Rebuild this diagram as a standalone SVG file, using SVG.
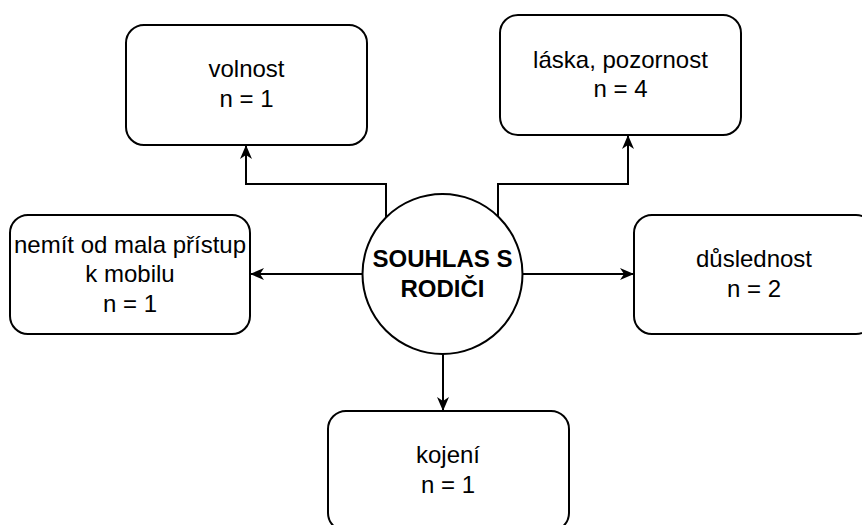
<svg xmlns="http://www.w3.org/2000/svg" width="862" height="525" viewBox="0 0 862 525">
<defs>
<style>
.box{fill:#fff;stroke:#000;stroke-width:2}
.t{font-family:"Liberation Sans",Arial,sans-serif;font-size:24px;fill:#000;text-anchor:middle}
.c{font-family:"Liberation Sans",Arial,sans-serif;font-size:24px;font-weight:bold;fill:#000;text-anchor:middle}
.e{fill:none;stroke:#000;stroke-width:2}
</style>
<marker id="arr" viewBox="0 0 14 12" refX="13" refY="6" markerWidth="14" markerHeight="12" markerUnits="userSpaceOnUse" orient="auto">
<path d="M0,0 L14,6 L0,12 L4,6 Z" fill="#000"/>
</marker>
</defs>
<rect width="862" height="525" fill="#fff"/>
<g id="connectors">
<path class="e" d="M386,217 V184 H246 V146" marker-end="url(#arr)"/>
<path class="e" d="M498,216 V184 H628 V136" marker-end="url(#arr)"/>
<path class="e" d="M362,274 H251" marker-end="url(#arr)"/>
<path class="e" d="M523,274 H633" marker-end="url(#arr)"/>
<path class="e" d="M443,354 V410" marker-end="url(#arr)"/>
</g>
<g id="center">
<circle class="box" cx="442.5" cy="274" r="80"/>
<text class="c" x="442.5" y="267">SOUHLAS S</text>
<text class="c" x="442.5" y="297">RODIČI</text>
</g>
<g id="volnost">
<rect class="box" x="126" y="25" width="241" height="120" rx="18"/>
<text class="t" x="246.5" y="77">volnost</text>
<text class="t" x="246.5" y="107">n = 1</text>
</g>
<g id="laska">
<rect class="box" x="500" y="15" width="241" height="120" rx="18"/>
<text class="t" x="620.5" y="68">láska, pozornost</text>
<text class="t" x="620.5" y="97">n = 4</text>
</g>
<g id="nemit">
<rect class="box" x="10" y="215" width="240" height="119" rx="18"/>
<text class="t" x="130" y="253">nemít od mala přístup</text>
<text class="t" x="130" y="282">k mobilu</text>
<text class="t" x="130" y="312">n = 1</text>
</g>
<g id="dueslednost">
<rect class="box" x="634" y="215" width="240" height="119" rx="18"/>
<text class="t" x="754" y="267">důslednost</text>
<text class="t" x="754" y="297">n = 2</text>
</g>
<g id="kojeni">
<rect class="box" x="328" y="411" width="241" height="120" rx="18"/>
<text class="t" x="448" y="463">kojení</text>
<text class="t" x="448" y="493">n = 1</text>
</g>
</svg>
